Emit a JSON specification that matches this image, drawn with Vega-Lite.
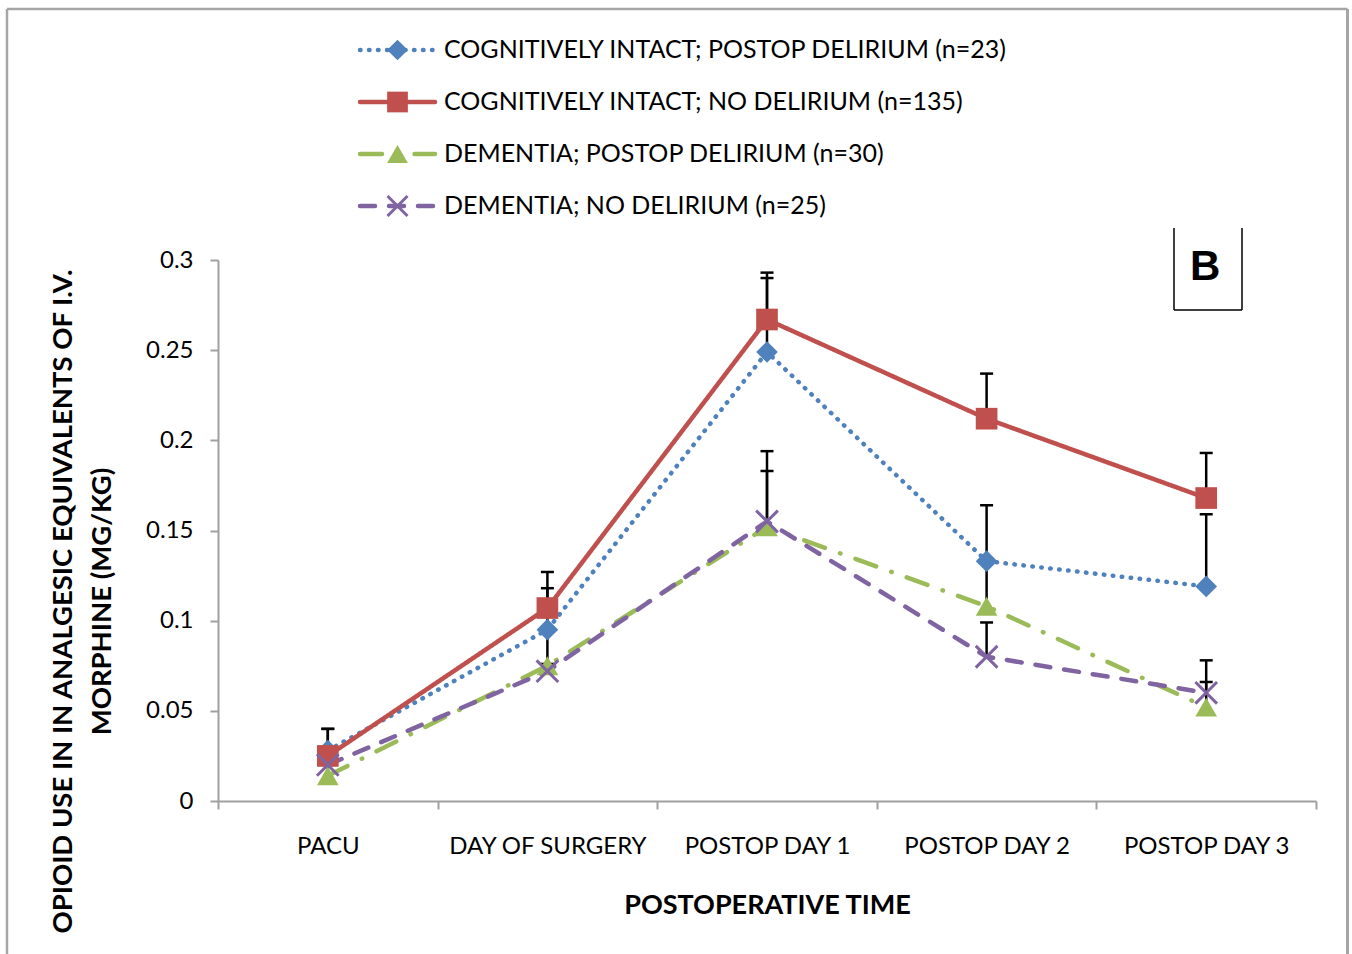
{
  "$schema": "https://vega.github.io/schema/vega-lite/v6.json",
  "width": 1098,
  "height": 541,
  "autosize": {"type": "none"},
  "padding": {"left": 218, "top": 260, "right": 36, "bottom": 153},
  "background": "white",
  "config": {
    "view": {"stroke": null},
    "font": "Lato",
    "text": {"font": "Lato"}
  },
  "datasets": {
    "main": [
      {"t": "PACU", "s": "A", "v": 0.028, "e": 0.040},
      {"t": "DAY OF SURGERY", "s": "A", "v": 0.095, "e": 0.118},
      {"t": "POSTOP DAY 1", "s": "A", "v": 0.249, "e": 0.290},
      {"t": "POSTOP DAY 2", "s": "A", "v": 0.133, "e": 0.164},
      {"t": "POSTOP DAY 3", "s": "A", "v": 0.119, "e": 0.159},
      {"t": "PACU", "s": "B", "v": 0.025, "e": 0.040},
      {"t": "DAY OF SURGERY", "s": "B", "v": 0.107, "e": 0.127},
      {"t": "POSTOP DAY 1", "s": "B", "v": 0.267, "e": 0.293},
      {"t": "POSTOP DAY 2", "s": "B", "v": 0.212, "e": 0.237},
      {"t": "POSTOP DAY 3", "s": "B", "v": 0.168, "e": 0.193},
      {"t": "PACU", "s": "C", "v": 0.014, "e": 0.020},
      {"t": "DAY OF SURGERY", "s": "C", "v": 0.075, "e": 0.095},
      {"t": "POSTOP DAY 1", "s": "C", "v": 0.152, "e": 0.183},
      {"t": "POSTOP DAY 2", "s": "C", "v": 0.108, "e": 0.132},
      {"t": "POSTOP DAY 3", "s": "C", "v": 0.052, "e": 0.066},
      {"t": "PACU", "s": "D", "v": 0.020, "e": 0.026},
      {"t": "DAY OF SURGERY", "s": "D", "v": 0.072, "e": 0.076},
      {"t": "POSTOP DAY 1", "s": "D", "v": 0.155, "e": 0.194},
      {"t": "POSTOP DAY 2", "s": "D", "v": 0.080, "e": 0.099},
      {"t": "POSTOP DAY 3", "s": "D", "v": 0.060, "e": 0.078}
    ],
    "legend": [
      {"s": "A", "label": "COGNITIVELY INTACT; POSTOP DELIRIUM (n=23)"},
      {"s": "B", "label": "COGNITIVELY INTACT; NO DELIRIUM (n=135)"},
      {"s": "C", "label": "DEMENTIA; POSTOP DELIRIUM (n=30)"},
      {"s": "D", "label": "DEMENTIA; NO DELIRIUM (n=25)"}
    ]
  },
  "layer": [
    {
      "data": {"name": "main"},
      "encoding": {
        "x": {
          "field": "t", "type": "nominal",
          "scale": {"type": "band", "domain": ["PACU", "DAY OF SURGERY", "POSTOP DAY 1", "POSTOP DAY 2", "POSTOP DAY 3"], "paddingInner": 0, "paddingOuter": 0},
          "axis": {
            "title": "POSTOPERATIVE TIME",
            "labelAngle": 0, "labelFontSize": 24, "labelColor": "#000000", "labelFont": "Lato", "labelLimit": 0,
            "labelPadding": 25, "tickBand": "extent", "tickSize": 8, "tickWidth": 2, "tickColor": "#A0A0A0",
            "domainColor": "#A0A0A0", "domainWidth": 2, "grid": false,
            "titleFontSize": 27, "titleFontWeight": "bold", "titleColor": "#000000", "titleFont": "Lato",
            "titleY": 104, "titleBaseline": "middle"
          }
        },
        "y": {
          "field": "v", "type": "quantitative",
          "scale": {"domain": [0, 0.3], "nice": false},
          "axis": {
            "title": ["OPIOID USE IN IN ANALGESIC EQUIVALENTS OF  I.V.", "MORPHINE (MG/KG)"],
            "values": [0, 0.05, 0.1, 0.15, 0.2, 0.25, 0.3], "format": "~g",
            "labelFontSize": 24, "labelColor": "#000000", "labelFont": "Lato", "labelPadding": 17,
            "tickSize": 8, "tickWidth": 2, "tickColor": "#A0A0A0",
            "domainColor": "#A0A0A0", "domainWidth": 2, "grid": false,
            "titleFontSize": 27.5, "titleFontWeight": "bold", "titleColor": "#000000", "titleFont": "Lato",
            "titleAngle": -90, "titleX": -155, "titleY": 341, "titleBaseline": "middle", "titleAlign": "center", "titleLineHeight": 39
          }
        }
      },
      "layer": [
        {
          "mark": {"type": "rule", "color": "#000000", "strokeWidth": 2.5},
          "encoding": {"y2": {"field": "e"}}
        },
        {
          "mark": {"type": "point", "shape": "M-1,0H1", "size": 169, "filled": false, "stroke": "#000000", "strokeWidth": 2.5, "opacity": 1},
          "encoding": {"y": {"field": "e", "type": "quantitative"}}
        },
        {
          "mark": {"type": "line", "strokeWidth": 4.5, "strokeCap": "round", "strokeJoin": "round"},
          "encoding": {
            "color": {"field": "s", "type": "nominal", "scale": {"domain": ["A", "B", "C", "D"], "range": ["#4F81BD", "#C0504D", "#9BBB59", "#8064A2"]}, "legend": null},
            "strokeDash": {"field": "s", "type": "nominal", "scale": {"domain": ["A", "B", "C", "D"], "range": [[0.5, 8.5], [1, 0], [22, 16, 0.5, 16], [15, 14]]}, "legend": null}
          }
        },
        {
          "transform": [{"filter": "datum.s != 'D'"}],
          "mark": {"type": "point", "filled": true, "size": 470, "opacity": 1},
          "encoding": {
            "color": {"field": "s", "type": "nominal", "scale": {"domain": ["A", "B", "C", "D"], "range": ["#4F81BD", "#C0504D", "#9BBB59", "#8064A2"]}, "legend": null},
            "shape": {"field": "s", "type": "nominal", "scale": {"domain": ["A", "B", "C"], "range": ["diamond", "square", "triangle-up"]}, "legend": null}
          }
        },
        {
          "transform": [{"filter": "datum.s == 'D'"}],
          "mark": {"type": "point", "shape": "M-1,-1L1,1M-1,1L1,-1", "filled": false, "size": 470, "strokeWidth": 3, "stroke": "#8064A2", "opacity": 1}
        }
      ]
    },
    {
      "data": {"name": "legend"},
      "encoding": {
        "y": {"field": "s", "type": "nominal", "scale": {"type": "point", "domain": ["A", "B", "C", "D"], "range": [-210, -54], "padding": 0}, "axis": null}
      },
      "layer": [
        {
          "mark": {"type": "rule", "strokeWidth": 4.5, "strokeCap": "round"},
          "encoding": {
            "x": {"datum": 0, "type": "quantitative", "scale": {"domain": [0, 1], "range": [142, 217]}, "axis": null},
            "x2": {"datum": 1},
            "color": {"field": "s", "type": "nominal", "scale": {"domain": ["A", "B", "C", "D"], "range": ["#4F81BD", "#C0504D", "#9BBB59", "#8064A2"]}, "legend": null},
            "strokeDash": {"field": "s", "type": "nominal", "scale": {"domain": ["A", "B", "C", "D"], "range": [[0.5, 8.5], [1, 0], [22, 16, 0.5, 16], [15, 14]]}, "legend": null}
          }
        },
        {
          "transform": [{"filter": "datum.s != 'D'"}],
          "mark": {"type": "point", "filled": true, "size": 430, "opacity": 1},
          "encoding": {
            "x": {"datum": 0.5, "type": "quantitative", "scale": {"domain": [0, 1], "range": [142, 217]}, "axis": null},
            "color": {"field": "s", "type": "nominal", "scale": {"domain": ["A", "B", "C", "D"], "range": ["#4F81BD", "#C0504D", "#9BBB59", "#8064A2"]}, "legend": null},
            "shape": {"field": "s", "type": "nominal", "scale": {"domain": ["A", "B", "C"], "range": ["diamond", "square", "triangle-up"]}, "legend": null}
          }
        },
        {
          "transform": [{"filter": "datum.s == 'D'"}],
          "mark": {"type": "point", "shape": "M-1,-1L1,1M-1,1L1,-1", "filled": false, "size": 400, "strokeWidth": 3, "stroke": "#8064A2", "opacity": 1},
          "encoding": {
            "x": {"datum": 0.5, "type": "quantitative", "scale": {"domain": [0, 1], "range": [142, 217]}, "axis": null}
          }
        },
        {
          "mark": {"type": "text", "align": "left", "baseline": "middle", "dx": 9, "fontSize": 25, "font": "Lato", "color": "#000000"},
          "encoding": {
            "x": {"datum": 1, "type": "quantitative", "scale": {"domain": [0, 1], "range": [142, 217]}, "axis": null},
            "text": {"field": "label"}
          }
        }
      ]
    },
    {
      "data": {"values": [{}]},
      "encoding": {
        "x": {"datum": 0, "type": "quantitative", "scale": {"domain": [0, 1], "range": [-211, 1129.5]}, "axis": null},
        "y": {"datum": 0, "type": "quantitative", "scale": {"domain": [0, 1], "range": [-251, 720]}, "axis": null}
      },
      "layer": [
        {"mark": {"type": "rule", "color": "#A6A6A6", "strokeWidth": 2.5}, "encoding": {"y2": {"datum": 1}}},
        {"mark": {"type": "rule", "color": "#A6A6A6", "strokeWidth": 3}, "encoding": {"x": {"datum": 1, "type": "quantitative"}, "y2": {"datum": 1}}},
        {"mark": {"type": "rule", "color": "#A6A6A6", "strokeWidth": 2.5}, "encoding": {"x2": {"datum": 1}}}
      ]
    },
    {
      "data": {"values": [{}]},
      "encoding": {
        "x": {"datum": 0, "type": "quantitative", "scale": {"domain": [0, 1], "range": [956, 1024]}, "axis": null},
        "y": {"datum": 0, "type": "quantitative", "scale": {"domain": [0, 1], "range": [-32, 50]}, "axis": null}
      },
      "layer": [
        {"mark": {"type": "rule", "color": "#000000", "strokeWidth": 1.5}, "encoding": {"y2": {"datum": 1}}},
        {"mark": {"type": "rule", "color": "#000000", "strokeWidth": 1.5}, "encoding": {"x": {"datum": 1, "type": "quantitative"}, "y2": {"datum": 1}}},
        {"mark": {"type": "rule", "color": "#000000", "strokeWidth": 1.5}, "encoding": {"y": {"datum": 1, "type": "quantitative"}, "x2": {"datum": 1}}},
        {"mark": {"type": "text", "text": "B", "font": "Liberation Sans", "fontWeight": "bold", "fontSize": 42, "align": "center", "baseline": "middle", "color": "#000000"}, "encoding": {"x": {"datum": 0.46, "type": "quantitative"}, "y": {"datum": 0.48, "type": "quantitative"}}}
      ]
    }
  ],
  "resolve": {"scale": {"x": "independent", "y": "independent", "color": "independent", "strokeDash": "independent", "shape": "independent"}}
}
